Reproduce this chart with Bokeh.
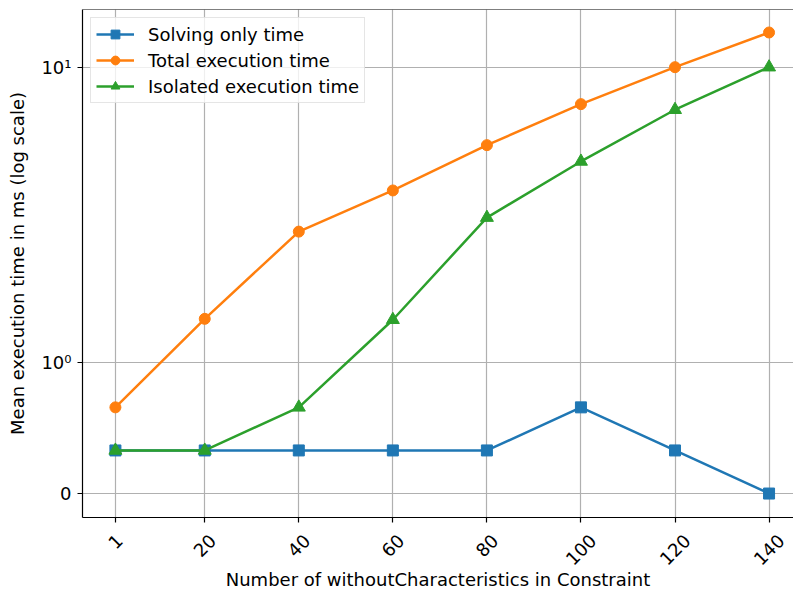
import math
from bokeh.plotting import figure
from bokeh.models import (ColumnDataSource, CustomJSTransform, FixedTicker, CustomJSTickFormatter,
                          Legend, LegendItem, Span, Range1d, LinearAxis)
from bokeh.transform import transform
from bokeh.embed import file_html
from bokeh.resources import INLINE

# ---- data ----
x_vals = [1, 20, 40, 60, 80, 100, 120, 140]
x_tick_labels = ["1", "20", "40", "60", "80", "100", "120", "140"]
solving_only = [0.33, 0.33, 0.33, 0.33, 0.33, 0.66, 0.33, 0.0]
total_exec = [0.66, 1.41, 2.78, 3.83, 5.45, 7.50, 10.0, 13.1]
isolated_exec = [0.33, 0.33, 0.66, 1.40, 3.10, 4.80, 7.18, 10.0]
y_tick_values = [0, 1, 10]
y_tick_labels = ["0", "10\u2070", "10\u00b9"]
series_names = ["Solving only time", "Total execution time", "Isolated execution time"]
colors = ["#1f77b4", "#ff7f0e", "#2ca02c"]
markers = ["square", "circle", "triangle"]

# symlog-like axis: linear part 0..1 occupies LIN decades
LIN = 0.4415


def symlog(v):
    return v * LIN if v <= 1 else LIN + math.log10(v)


sym_tf = CustomJSTransform(
    args=dict(a=LIN),
    func="return x <= 1 ? x * a : a + Math.log10(x);",
    v_func="return xs.map(x => x <= 1 ? x * a : a + Math.log10(x));",
)

FONT = "DejaVu Sans"
FSN = 18
FS = f"{FSN}px"
W, H = 793, 592
LEFT = 82
X0, X1 = -6.0, 145.2
Y0, Y1 = -0.081, 1.6365

p = figure(width=W, height=H, output_backend="svg", toolbar_location=None,
           x_range=Range1d(X0, X1), y_range=Range1d(Y0, Y1),
           min_border_left=LEFT, min_border_right=0, min_border_top=9, min_border_bottom=20)
p.outline_line_color = None
p.background_fill_color = "white"
p.border_fill_color = "white"

src = ColumnDataSource(dict(x=x_vals, s=solving_only, t=total_exec, i=isolated_exec))

items = []
for col, name, c, m in zip(["s", "t", "i"], series_names, colors, markers):
    ln = p.line(x="x", y=transform(col, sym_tf), source=src, line_color=c, line_width=2.5)
    sz = 11 if m == "square" else (11 if m == "circle" else 13)
    sc = p.scatter(x="x", y=transform(col, sym_tf), source=src, marker=m, size=sz,
                   fill_color=c, line_color=c)
    items.append(LegendItem(label=name, renderers=[ln, sc]))

# top spine
p.add_layout(Span(location=Y1, dimension="width", line_color="black", line_width=1.2))

# axes
p.xaxis.ticker = FixedTicker(ticks=x_vals)
p.xaxis.formatter = CustomJSTickFormatter(code="return '';")
p.yaxis.ticker = FixedTicker(ticks=[symlog(v) for v in y_tick_values])
p.yaxis.formatter = CustomJSTickFormatter(
    args=dict(pos=[symlog(v) for v in y_tick_values], labels=y_tick_labels),
    code="""
    let best = 0, bd = 1e9;
    for (let k = 0; k < pos.length; k++) { const d = Math.abs(pos[k] - tick); if (d < bd) { bd = d; best = k; } }
    return labels[best];
    """)
for ax in (p.xaxis[0], p.yaxis[0]):
    ax.axis_line_color = "black"
    ax.axis_line_width = 1.2
    ax.major_tick_line_color = "black"
    ax.major_tick_line_width = 1.2
    ax.major_tick_out = 5
    ax.major_tick_in = 0
    ax.minor_tick_line_color = None
    ax.major_label_text_font = FONT
    ax.major_label_text_font_size = FS
    ax.major_label_text_color = "black"
    ax.axis_label_text_font = FONT
    ax.axis_label_text_font_size = FS
    ax.axis_label_text_font_style = "normal"
    ax.axis_label_text_color = "black"
p.yaxis.major_label_standoff = 6
p.yaxis.axis_label = "Mean execution time in ms (log scale)"
p.yaxis.axis_label_standoff = 10
p.xaxis.major_label_standoff = 0

# second (label-only) x axis: rotated labels centred under each tick like matplotlib.
# Bokeh right-aligns rotated labels at the anchor, so shift each anchor by half the
# horizontal extent of its text.
px_per_unit = (W - LEFT) / (X1 - X0)
digit_w = 0.636 * FSN
label_pos = [xv + len(lab) * digit_w * math.cos(math.pi / 4) / 2 / px_per_unit
             for xv, lab in zip(x_vals, x_tick_labels)]
ax2 = LinearAxis(
    ticker=FixedTicker(ticks=label_pos),
    formatter=CustomJSTickFormatter(
        args=dict(pos=label_pos, labels=x_tick_labels),
        code="""
        let best = 0, bd = 1e9;
        for (let k = 0; k < pos.length; k++) { const d = Math.abs(pos[k] - tick); if (d < bd) { bd = d; best = k; } }
        return labels[best];
        """),
    axis_line_color=None, major_tick_line_color=None, minor_tick_line_color=None,
    major_tick_in=0, major_tick_out=0,
    major_label_orientation=math.pi / 4, major_label_standoff=15,
    major_label_text_font=FONT, major_label_text_font_size=FS, major_label_text_color="black",
    axis_label="Number of withoutCharacteristics in Constraint", axis_label_standoff=-5,
    axis_label_text_font=FONT, axis_label_text_font_size=FS, axis_label_text_font_style="normal",
    axis_label_text_color="black",
)
p.add_layout(ax2, "below")

for g in (p.xgrid[0], p.ygrid[0]):
    g.grid_line_color = "#b0b0b0"
    g.grid_line_width = 1.2

legend = Legend(items=items, location="top_left")
legend.margin = 8
legend.padding = 5
legend.spacing = 4
legend.label_text_font = FONT
legend.label_text_font_size = FS
legend.label_text_color = "black"
legend.label_height = 22
legend.glyph_height = 22
legend.glyph_width = 38
legend.label_standoff = 14
legend.border_line_color = "#cccccc"
legend.border_line_width = 1.2
legend.background_fill_alpha = 0.8
p.add_layout(legend)

open("out.html", "w").write(file_html(p, INLINE))
